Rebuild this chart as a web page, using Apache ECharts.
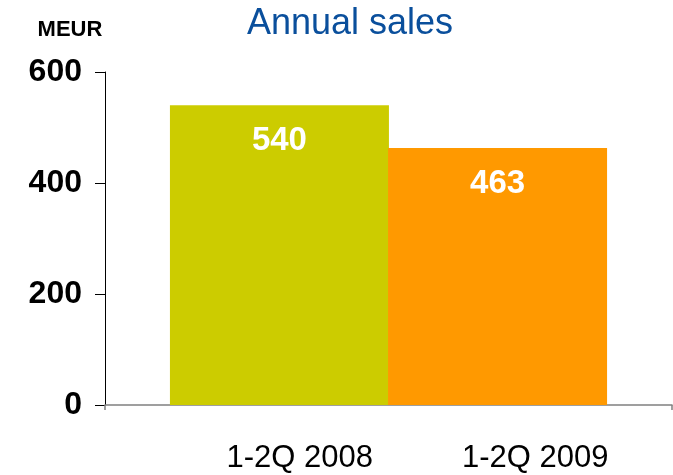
<!DOCTYPE html>
<html>
<head>
<meta charset="utf-8">
<script src="https://cdn.jsdelivr.net/npm/echarts@6/dist/echarts.min.js"></script>
<style>
html,body{margin:0;padding:0;background:#fff;}
#chart{width:673px;height:475px;}
</style>
</head>
<body>
<div id="chart"></div>
<script>
var categories = ['1-2Q 2008', '1-2Q 2009'];
var sales = [540, 463];
var barColors = ['#cccc00', '#ff9900'];
var yMin = 0, yMax = 600, yStep = 200;
var titleText = 'Annual sales';
var unitText = 'MEUR';

var FONT = '"Liberation Sans", Arial, sans-serif';
var chart = echarts.init(document.getElementById('chart'), null, {renderer: 'canvas'});

var series = categories.map(function (c, i) {
  return {
    type: 'bar',
    name: c,
    xAxisIndex: 0,
    yAxisIndex: 0,
    data: [sales[i]],
    barWidth: 219,
    barGap: '-0.4%',
    itemStyle: {color: barColors[i]},
    label: {
      show: true,
      position: 'insideTop',
      distance: 19,
      color: '#ffffff',
      fontFamily: FONT,
      fontWeight: 'bold',
      fontSize: 33,
      lineHeight: 33
    }
  };
});

chart.setOption({
  animation: false,
  backgroundColor: '#ffffff',
  title: [
    {text: titleText, left: 345, top: 1, textAlign: 'center',
     textStyle: {color: '#0a4f9c', fontFamily: FONT, fontWeight: 'normal', fontSize: 36, lineHeight: 36}},
    {text: unitText, left: 65, top: 14, textAlign: 'center',
     textStyle: {color: '#000', fontFamily: FONT, fontWeight: 'bold', fontSize: 22, lineHeight: 22}}
  ],
  grid: [
    {left: 105, right: 1, top: 72, bottom: 70},
    {left: 182, right: 20, top: 72, bottom: 70}
  ],
  xAxis: [
    {type: 'category', gridIndex: 0, data: [''],
     axisLine: {lineStyle: {color: '#808080', width: 1.5}},
     axisTick: {show: true, length: 5, lineStyle: {color: '#808080', width: 1.5}},
     axisLabel: {show: false}},
    {type: 'category', gridIndex: 1, data: categories,
     axisLine: {show: false}, axisTick: {show: false},
     axisLabel: {margin: 38, color: '#000', fontFamily: FONT, fontSize: 31, lineHeight: 31}}
  ],
  yAxis: [
    {type: 'value', gridIndex: 0, min: yMin, max: yMax, interval: yStep,
     axisLine: {show: true, lineStyle: {color: '#000', width: 1}},
     axisTick: {show: true, length: 10, lineStyle: {color: '#000', width: 1}},
     splitLine: {show: false},
     axisLabel: {margin: 23, color: '#000', fontFamily: FONT, fontWeight: 'bold', fontSize: 32}},
    {type: 'value', gridIndex: 1, min: yMin, max: yMax, show: false}
  ],
  series: series
});
</script>
</body>
</html>
